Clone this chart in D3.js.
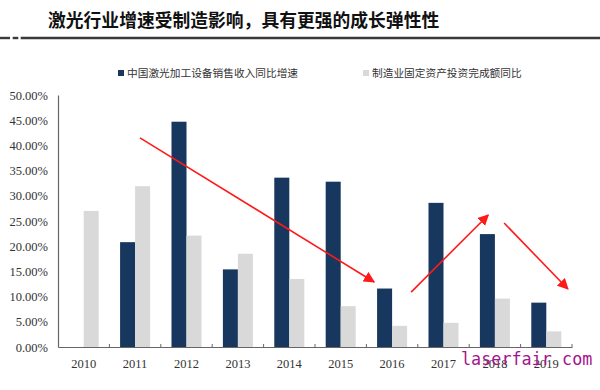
<!DOCTYPE html>
<html><head><meta charset="utf-8">
<script src="https://cdn.jsdelivr.net/npm/d3@7/dist/d3.min.js"></script>
<style>body{margin:0;background:#fff;}svg{display:block;}</style>
</head><body>
<svg id="chart" width="600" height="390"></svg>
<script>
const title = "激光行业增速受制造影响，具有更强的成长弹性性";
const years = ["2010","2011","2012","2013","2014","2015","2016","2017","2018","2019"];
const seriesNames = ["中国激光加工设备销售收入同比增速","制造业固定资产投资完成额同比"];
const laserGrowth = [null, 0.208, 0.447, 0.154, 0.336, 0.328, 0.116, 0.286, 0.224, 0.088];
const mfgInvest = [0.270, 0.319, 0.221, 0.185, 0.135, 0.081, 0.042, 0.048, 0.096, 0.031];
const yTicks = [0,0.05,0.10,0.15,0.20,0.25,0.30,0.35,0.40,0.45,0.50];
// trend arrows: [start category position, start value, end category position, end value]
const arrows = [
  [1.595, 0.415, 6.15, 0.129],
  [6.87, 0.109, 8.37, 0.262],
  [8.68, 0.246, 9.92, 0.115]
];
const colors = ["#17375e", "#d9d9d9"];

const svg = d3.select("#chart");
const L = 58, R = 572, T = 95, B = 347;

// title
svg.append("text").attr("x", 48).attr("y", 26.5)
  .attr("font-family", "Noto Sans CJK SC").attr("font-weight", 700)
  .attr("font-size", 17.8).attr("fill", "#111").text(title);
const ul = svg.append("g").attr("stroke", "#3a3a3a").attr("stroke-width", 2.4);
ul.append("line").attr("x1", 0).attr("x2", 10).attr("y1", 38).attr("y2", 38);
ul.append("line").attr("x1", 12.7).attr("x2", 18.3).attr("y1", 38).attr("y2", 38);
ul.append("line").attr("x1", 20.7).attr("x2", 600).attr("y1", 38).attr("y2", 38);

// scales
const x = d3.scaleBand().domain(years).range([L, R]).paddingInner(0.416).paddingOuter(0.208);
const xs = d3.scaleBand().domain([0,1]).range([0, x.bandwidth()]);
const xPos = d3.scaleLinear().domain([0, years.length]).range([L, R]);
const y = d3.scaleLinear().domain([0, 0.5]).range([B, T]);

// bars
const data = years.map((yr, i) => ({yr, vals: [laserGrowth[i], mfgInvest[i]]}));
const g = svg.append("g").selectAll("g").data(data).join("g")
  .attr("transform", d => `translate(${x(d.yr)},0)`);
g.selectAll("rect").data(d => d.vals.map((v, k) => ({v, k})).filter(e => e.v != null))
  .join("rect")
  .attr("x", e => xs(e.k)).attr("width", xs.bandwidth())
  .attr("y", e => y(e.v)).attr("height", e => B - y(e.v))
  .attr("fill", e => colors[e.k]);

// y axis
const yAxis = svg.append("g").attr("transform", `translate(${L},0)`)
  .call(d3.axisLeft(y).tickValues(yTicks).tickFormat(d3.format(".2%")).tickSize(0).tickPadding(10));
yAxis.select(".domain").attr("stroke", "#666").attr("stroke-width", 1.2);
yAxis.selectAll("text").attr("font-family", "Liberation Serif").attr("font-size", 12.5).attr("fill", "#333");

// x axis
const xAxis = svg.append("g").attr("transform", `translate(0,${B})`)
  .call(d3.axisBottom(x).tickSize(0).tickPadding(12));
xAxis.select(".domain").attr("stroke", "#666").attr("stroke-width", 1.2);
xAxis.selectAll("text").attr("font-family", "Liberation Serif").attr("font-size", 12.5).attr("fill", "#333");
xAxis.selectAll(".bnd").data(d3.range(1, years.length + 1)).join("line")
  .attr("x1", i => xPos(i)).attr("x2", i => xPos(i)).attr("y1", 0).attr("y2", -3)
  .attr("stroke", "#666");

// legend
const legX = [118, 363];
seriesNames.forEach((name, k) => {
  svg.append("rect").attr("x", legX[k]).attr("y", 70).attr("width", 6).attr("height", 6).attr("fill", colors[k]);
  svg.append("text").attr("x", legX[k] + 9).attr("y", 73).attr("dy", "0.36em")
    .attr("font-family", "Noto Sans CJK SC").attr("font-size", 10.7).attr("fill", "#333").text(name);
});

// arrows
const defs = svg.append("defs");
defs.append("marker").attr("id", "ah").attr("viewBox", "0 0 10 10").attr("refX", 9).attr("refY", 5)
  .attr("markerWidth", 7).attr("markerHeight", 7).attr("markerUnits", "strokeWidth").attr("orient", "auto")
  .append("path").attr("d", "M0,0 L10,5 L0,10 z").attr("fill", "#ff1a1a");
svg.append("g").selectAll("line").data(arrows).join("line")
  .attr("x1", a => xPos(a[0])).attr("y1", a => y(a[1]))
  .attr("x2", a => xPos(a[2])).attr("y2", a => y(a[3]))
  .attr("stroke", "#ff1a1a").attr("stroke-width", 1.6).attr("marker-end", "url(#ah)");

// watermark
svg.append("text").attr("x", 461).attr("y", 365)
  .attr("font-family", "DejaVu Sans Mono").attr("font-size", 16.8).attr("fill", "#a3148e")
  .text("laserfair com");
</script>
</body></html>
